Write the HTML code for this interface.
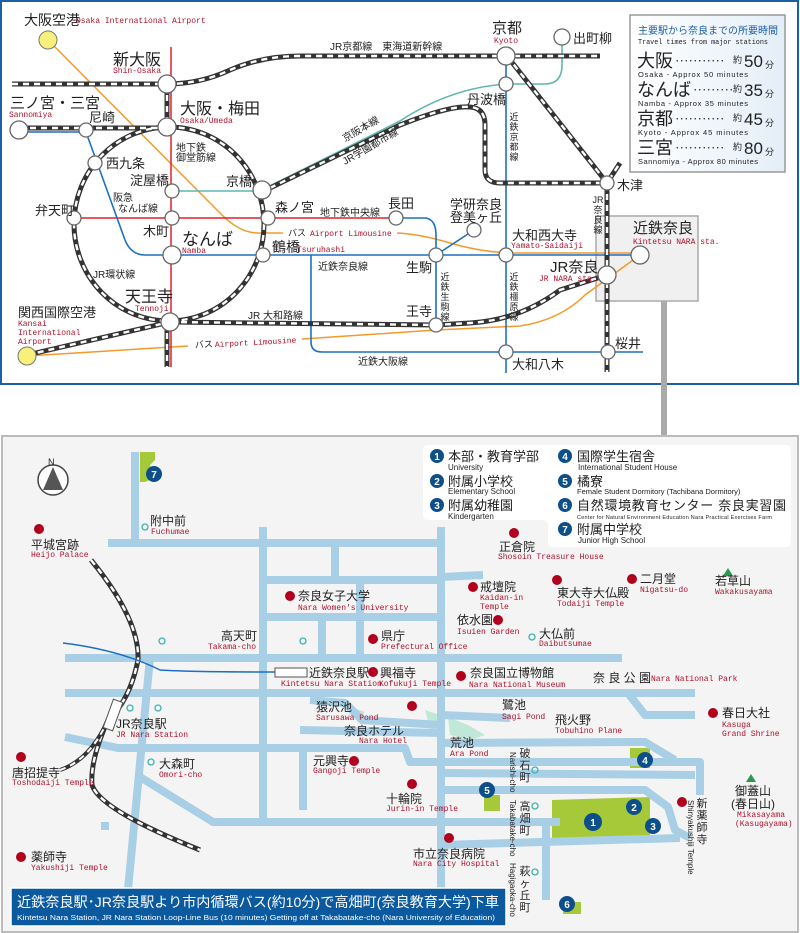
<!DOCTYPE html>
<html><head><meta charset="utf-8"><style>
html,body{margin:0;padding:0;background:#fff}
svg{display:block}
text{font-family:"Liberation Sans","Noto Sans CJK JP",sans-serif;fill:#222}
.r{font-family:"Liberation Mono","Noto Sans CJK JP",monospace;fill:#b0102a;font-size:8px}
.b{fill:#1a5fa8}
.st{fill:#fff;stroke:#666;stroke-width:1.3}
.rd{fill:#b0001e}
.road{fill:none;stroke:#a8cfe6;stroke-width:8;stroke-linejoin:round}
.nc{fill:#0d4f8b}
.nt{fill:#fff;font-size:10px;font-weight:bold;text-anchor:middle}
</style></head><body>
<svg width="800" height="933" viewBox="0 0 800 933" xmlns="http://www.w3.org/2000/svg">
<!-- TOP PANEL -->
<rect x="1" y="1" width="797" height="383" fill="#fff" stroke="#1a5fa8" stroke-width="2"/>
<rect x="661" y="300" width="6" height="140" fill="#aaa"/>
<rect x="596" y="216" width="102" height="85" fill="#f0f0f0" stroke="#aaa" stroke-width="1.5"/>

<g fill="none" stroke="#f39a2b" stroke-width="1.5">
<path d="M48,40 L222,215 Q240,233 258,233 L283,233"/>
<path d="M397,233 Q420,234 450,243 Q480,252 510,253 L640,253"/>
<path d="M27,356 L188,346"/>
<path d="M302,339 L436,330 L520,326 Q560,320 585,295 L640,255"/>
</g>
<path d="M172,191 L250,191 Q262,191 270,186 L400,121 Q450,88 506,84 L545,84 Q562,84 562,65 L562,44" fill="none" stroke="#5fb7b0" stroke-width="1.6"/>
<g stroke="#e0202a" stroke-width="1.5" fill="none">
<path d="M171,47 L171,367"/>
<path d="M74,218 L396,218"/>
</g>
<g stroke="#1c6fc4" stroke-width="1.6" fill="none">
<path d="M19,132 L86,132 L125,240 Q131,255 145,255 L640,255"/>
<path d="M396,218 L426,218 Q436,220 436,235 L436,325"/>
<path d="M436,255 L474,230"/>
<path d="M506,56 L506,373"/>
<path d="M311,255 L311,342 Q311,352 322,352 L643,352"/>
</g>
<g fill="none" stroke-linejoin="round">
<g stroke="#333" stroke-width="5">
<path d="M12,84 L167,84 Q200,84 230,70 Q262,56 300,56 L600,56"/>
<path d="M19,128 L167,128"/>
<path d="M167,84 L167,128"/>
<ellipse cx="169" cy="224" rx="95" ry="97"/>
<path d="M270,188 L400,125 Q450,105 470,107 Q485,108 485,125 L485,170 Q485,183 500,183 L607,183"/>
<path d="M507,56 L607,183 L620,163"/>
<path d="M607,183 L607,372"/>
<path d="M170,322 L436,325 L470,323 Q520,320 560,290 L607,275"/>
<path d="M27,355 L170,322"/>
<path d="M167,322 L167,367"/>
</g>
<g stroke="#fff" stroke-width="2.4" stroke-dasharray="6 5">
<path d="M12,84 L167,84 Q200,84 230,70 Q262,56 300,56 L600,56"/>
<path d="M19,128 L167,128"/>
<path d="M167,84 L167,128"/>
<ellipse cx="169" cy="224" rx="95" ry="97"/>
<path d="M270,188 L400,125 Q450,105 470,107 Q485,108 485,125 L485,170 Q485,183 500,183 L607,183"/>
<path d="M507,56 L607,183 L620,163"/>
<path d="M607,183 L607,372"/>
<path d="M170,322 L436,325 L470,323 Q520,320 560,290 L607,275"/>
<path d="M27,355 L170,322"/>
<path d="M167,322 L167,367"/>
</g>
</g>
<circle cx="48" cy="40" r="9" fill="#f8f07a" stroke="#777"/>
<circle cx="27" cy="356" r="9" fill="#f8f07a" stroke="#777"/>
<g class="st">
<circle cx="167" cy="84" r="9"/><circle cx="19" cy="130" r="9"/><circle cx="86" cy="130" r="7"/>
<circle cx="167" cy="127" r="9"/><circle cx="95" cy="163" r="7"/><circle cx="172" cy="191" r="7"/>
<circle cx="262" cy="190" r="9"/><circle cx="74" cy="218" r="7"/><circle cx="172" cy="218" r="7"/>
<circle cx="268" cy="218" r="7"/><circle cx="172" cy="255" r="9"/><circle cx="263" cy="255" r="7"/>
<circle cx="170" cy="322" r="9"/><circle cx="396" cy="218" r="7"/><circle cx="474" cy="230" r="7"/>
<circle cx="436" cy="255" r="7"/><circle cx="506" cy="255" r="7"/><circle cx="640" cy="255" r="9"/>
<circle cx="607" cy="275" r="9"/><circle cx="436" cy="325" r="7"/><circle cx="506" cy="56" r="9"/>
<circle cx="562" cy="37" r="8"/><circle cx="506" cy="84" r="7"/><circle cx="607" cy="183" r="7"/>
<circle cx="506" cy="352" r="7"/><circle cx="608" cy="352" r="7"/>
</g>
<g font-size="13">
<text x="24" y="25" font-size="14">大阪空港</text><text class="r" x="76" y="23">Osaka International Airport</text>
<text x="113" y="65" font-size="16">新大阪</text><text class="r" x="113" y="73">Shin-Osaka</text>
<text x="10" y="108" font-size="15">三ノ宮・三宮</text><text class="r" x="9" y="117">Sannomiya</text>
<text x="89" y="122">尼崎</text>
<text x="180" y="114" font-size="16">大阪・梅田</text><text class="r" x="180" y="123">Osaka/Umeda</text>
<text x="176" y="151" font-size="10">地下鉄</text><text x="176" y="161" font-size="10">御堂筋線</text>
<text x="106" y="168">西九条</text><text x="130" y="185">淀屋橋</text><text x="226" y="186">京橋</text>
<text x="113" y="201" font-size="10">阪急</text><text x="118" y="212" font-size="10">なんば線</text>
<text x="35" y="215">弁天町</text><text x="275" y="212">森ノ宮</text>
<text x="320" y="216" font-size="10">地下鉄中央線</text><text x="388" y="208">長田</text>
<text x="143" y="236">木町</text>
<text x="182" y="245" font-size="17">なんば</text><text class="r" x="182" y="253">Namba</text>
<text x="272" y="252" font-size="14">鶴橋</text><text class="r" x="297" y="252">Tsuruhashi</text>
<text x="288" y="236" font-size="9">バス</text><text class="r" x="310" y="236">Airport Limousine</text>
<text x="318" y="270" font-size="10">近鉄奈良線</text><text x="93" y="278" font-size="10">JR環状線</text>
<text x="125" y="302" font-size="16">天王寺</text><text class="r" x="135" y="311">Tennoji</text>
<text x="18" y="317">関西国際空港</text>
<text class="r" x="18" y="326">Kansai</text><text class="r" x="18" y="335">International</text><text class="r" x="18" y="344">Airport</text>
<text x="248" y="319" font-size="10">JR 大和路線</text>
<g transform="rotate(-3 195 348)"><text x="195" y="348" font-size="9">バス</text><text class="r" x="215" y="348">Airport Limousine</text></g>
<text x="358" y="365" font-size="10">近鉄大阪線</text>
<text x="330" y="50" font-size="10">JR京都線　東海道新幹線</text>
<text x="492" y="33" font-size="15">京都</text><text class="r" x="494" y="43">Kyoto</text>
<text x="573" y="43">出町柳</text><text x="467" y="104">丹波橋</text>
<text x="345" y="142" font-size="10" transform="rotate(-30 345 142)">京阪本線</text>
<text x="345" y="165" font-size="10" transform="rotate(-30 345 165)">JR学園都市線</text>
<text x="617" y="190">木津</text>
<text x="450" y="209">学研奈良</text><text x="450" y="222">登美ヶ丘</text>
<text x="512" y="240">大和西大寺</text><text class="r" x="511" y="248">Yamato-Saidaiji</text>
<text x="633" y="233" font-size="15">近鉄奈良</text><text class="r" x="633" y="244">Kintetsu NARA sta.</text>
<text x="550" y="272" font-size="15">JR奈良</text><text class="r" x="539" y="281">JR NARA sta.</text>
<text x="406" y="272">生駒</text><text x="406" y="316">王寺</text><text x="615" y="348">桜井</text><text x="512" y="369">大和八木</text>
</g>
<g font-size="9" text-anchor="middle">
<text x="514" y="120">近</text><text x="514" y="130">鉄</text><text x="514" y="140">京</text><text x="514" y="150">都</text><text x="514" y="160">線</text>
<text x="598" y="203">JR</text><text x="598" y="213">奈</text><text x="598" y="223">良</text><text x="598" y="233">線</text>
<text x="445" y="280">近</text><text x="445" y="290">鉄</text><text x="445" y="300">生</text><text x="445" y="310">駒</text><text x="445" y="320">線</text>
<text x="514" y="280">近</text><text x="514" y="290">鉄</text><text x="514" y="300">橿</text><text x="514" y="310">原</text><text x="514" y="320">線</text>
</g>
<linearGradient id="lg" x1="0" x2="1"><stop offset="0" stop-color="#fff"/><stop offset="1" stop-color="#e4eef8"/></linearGradient>
<rect x="630" y="15" width="155" height="157" fill="url(#lg)" stroke="#999" stroke-width="1.5"/>
<text x="638" y="34" font-size="10" class="b" textLength="140" lengthAdjust="spacingAndGlyphs">主要駅から奈良までの所要時間</text>
<text x="638" y="44" font-size="7.5" fill="#555" textLength="130" lengthAdjust="spacingAndGlyphs" style="font-family:'Liberation Mono',monospace">Travel times from major stations</text>
<g font-size="18">
<text x="637" y="67">大阪</text><text x="637" y="96">なんば</text><text x="637" y="125">京都</text><text x="637" y="154">三宮</text>
</g>
<g font-size="9" fill="#444">
<text x="675" y="64">･･･････････</text><text x="693" y="93">･････････</text><text x="675" y="122">･･･････････</text><text x="675" y="151">･･･････････</text>
<text x="733" y="63">約</text><text x="733" y="92">約</text><text x="733" y="121">約</text><text x="733" y="150">約</text>
<text x="765" y="68">分</text><text x="765" y="97">分</text><text x="765" y="126">分</text><text x="765" y="155">分</text>
</g>
<g font-size="17">
<text x="744" y="67">50</text><text x="744" y="96">35</text><text x="744" y="125">45</text><text x="744" y="154">80</text>
</g>
<g font-size="7.5" fill="#444" style="font-family:'Liberation Mono',monospace">
<text x="638" y="77" textLength="110">Osaka - Approx 50 minutes</text><text x="638" y="106" textLength="110">Namba - Approx 35 minutes</text>
<text x="638" y="135" textLength="110">Kyoto - Approx 45 minutes</text><text x="638" y="164" textLength="120">Sannomiya - Approx 80 minutes</text>
</g>

<!-- BOTTOM PANEL -->
<rect x="2" y="436" width="796" height="496" fill="#f4f4f4" stroke="#bbb" stroke-width="2"/>
<g fill="#a6c93a">
<path d="M140,452 L155,452 L155,460 L150,465 L155,478 L145,482 L140,482 Z"/>
<path d="M552,800 L650,797 L650,840 L552,842 Z"/>
<rect x="630" y="748" width="20" height="20"/>
<rect x="484" y="795" width="16" height="16"/>
<rect x="563" y="902" width="18" height="12"/>
</g>
<g fill="#bfe8d8"><path d="M345,705 L365,712 L358,720 Z"/><path d="M425,710 L440,715 L432,735 Z"/><path d="M448,717 L468,725 L485,735 L470,740 L450,735 Z"/></g>
<g class="road">
<path d="M135,452 L135,540"/>
<path d="M108,543 L440,543"/>
<path d="M263,527 L263,822"/>
<path d="M441,527 L441,895"/>
<path d="M267,580 L440,580"/><path d="M335,543 L335,580"/>
<path d="M267,617 L440,617"/><path d="M322,617 L322,655"/><path d="M360,580 L360,655"/>
<path d="M441,577 L483,575"/>
<path d="M65,658 L622,658"/>
<path d="M65,693 L628,693 L645,715 L695,715"/>
<path d="M150,658 L127,900"/>
<path d="M65,737 L118,748 L405,748 L410,762 L700,762 L700,795"/>
<path d="M140,777 L213,822 L560,822"/>
<path d="M441,743 L645,742 L675,760"/>
<path d="M441,773 L695,775"/>
<path d="M441,790 L645,790 L668,807 L675,830 L690,838"/>
<path d="M441,845 L680,838"/>
<path d="M441,715 L510,718"/>
<path d="M546,822 L546,900"/>
<path d="M310,700 L345,703 L362,720 L441,725"/>
<path d="M300,730 L441,733"/>
<path d="M303,745 L303,810"/>
<path d="M105,822 L105,830"/>
<path d="M630,693 L695,693"/>
</g>
<g fill="none">
<path d="M91,560 Q140,620 138,660 Q130,700 108,720 Q90,760 92,785 Q100,810 200,850" stroke="#333" stroke-width="5"/>
<path d="M91,560 Q140,620 138,660 Q130,700 108,720 Q90,760 92,785 Q100,810 200,850" stroke="#fff" stroke-width="2.4" stroke-dasharray="6 5"/>
<path d="M60,770 Q90,760 108,720" stroke="#333" stroke-width="4"/>
<path d="M60,770 Q90,760 108,720" stroke="#fff" stroke-width="2" stroke-dasharray="6 5"/>
</g>
<rect x="108" y="700" width="10" height="30" fill="#fff" stroke="#555" transform="rotate(20 113 715)"/>
<path d="M63,643 Q120,650 160,670 Q190,672 280,672" fill="none" stroke="#1c6fc4" stroke-width="1.5"/>
<rect x="275" y="668" width="32" height="9" fill="#fff" stroke="#555"/>
<circle cx="53" cy="480" r="15" fill="#fff" stroke="#444" stroke-width="1.5"/>
<path d="M53,467 L63,490 L43,490 Z" fill="#555"/><text x="48" y="465" font-size="9">N</text>
<g>
<circle class="nc" cx="154" cy="474" r="8"/><text class="nt" x="154" y="478">7</text>
<circle class="nc" cx="593" cy="822" r="9"/><text class="nt" x="593" y="826">1</text>
<circle class="nc" cx="634" cy="807" r="8"/><text class="nt" x="634" y="811">2</text>
<circle class="nc" cx="653" cy="826" r="8"/><text class="nt" x="653" y="830">3</text>
<circle class="nc" cx="645" cy="760" r="8"/><text class="nt" x="645" y="764">4</text>
<circle class="nc" cx="487" cy="790" r="8"/><text class="nt" x="487" y="794">5</text>
<circle class="nc" cx="567" cy="904" r="8"/><text class="nt" x="567" y="908">6</text>
</g>
<path d="M428,445 L786,445 Q791,445 791,450 L791,542 Q791,547 786,547 L553,547 Q548,547 548,542 L548,525 Q548,520 543,520 L428,520 Q423,520 423,515 L423,450 Q423,445 428,445 Z" fill="#fff"/>
<g>
<circle class="nc" cx="437" cy="456" r="7"/><text class="nt" x="437" y="460" font-size="9">1</text>
<circle class="nc" cx="437" cy="481" r="7"/><text class="nt" x="437" y="485" font-size="9">2</text>
<circle class="nc" cx="437" cy="505" r="7"/><text class="nt" x="437" y="509" font-size="9">3</text>
<circle class="nc" cx="565" cy="456" r="7"/><text class="nt" x="565" y="460" font-size="9">4</text>
<circle class="nc" cx="565" cy="481" r="7"/><text class="nt" x="565" y="485" font-size="9">5</text>
<circle class="nc" cx="565" cy="505" r="7"/><text class="nt" x="565" y="509" font-size="9">6</text>
<circle class="nc" cx="565" cy="529" r="7"/><text class="nt" x="565" y="533" font-size="9">7</text>
</g>
<g font-size="13">
<text x="448" y="461">本部・教育学部</text><text x="448" y="486">附属小学校</text><text x="448" y="510">附属幼稚園</text>
<text x="577" y="461">国際学生宿舎</text><text x="577" y="486">橘寮</text><text x="577" y="510" textLength="209">自然環境教育センター 奈良実習園</text><text x="577" y="534">附属中学校</text>
</g>
<g font-size="8" class="b" style="font-family:'Liberation Mono',monospace">
<text x="448" y="470">University</text><text x="448" y="494">Elementary School</text><text x="448" y="519">Kindergarten</text>
<text x="578" y="470">International Student House</text><text x="577" y="494" font-size="7.5">Female Student Dormitory (Tachibana Dormitory)</text>
<text x="577" y="519" font-size="5.5" textLength="195">Center for Natural Environment Education Nara Practical Exercises Farm</text><text x="578" y="543">Junior High School</text>
</g>
<g class="rd">
<circle cx="39" cy="529" r="5"/><circle cx="21" cy="757" r="5"/><circle cx="21" cy="857" r="5"/>
<circle cx="290" cy="596" r="5"/><circle cx="373" cy="639" r="5"/><circle cx="373" cy="672" r="5"/>
<circle cx="412" cy="706" r="5"/><circle cx="354" cy="761" r="5"/><circle cx="412" cy="784" r="5"/>
<circle cx="449" cy="838" r="5"/><circle cx="514" cy="533" r="5"/><circle cx="473" cy="587" r="5"/>
<circle cx="498" cy="620" r="5"/><circle cx="461" cy="676" r="5"/><circle cx="557" cy="580" r="5"/>
<circle cx="632" cy="579" r="5"/><circle cx="713" cy="713" r="5"/><circle cx="682" cy="802" r="5"/>
</g>
<path d="M728,568 L723,576 L733,576 Z" fill="#2a9a4a"/><path d="M751,774 L746,782 L756,782 Z" fill="#2a9a4a"/>
<g font-size="12">
<text x="150" y="525">附中前</text><text class="r" x="151" y="534">Fuchumae</text>
<text x="31" y="549">平城宮跡</text><text class="r" x="31" y="557">Heijo Palace</text>
<text x="298" y="600">奈良女子大学</text><text class="r" x="298" y="610">Nara Women's University</text>
<text x="221" y="640">高天町</text><text class="r" x="208" y="649">Takama-cho</text>
<text x="381" y="640">県庁</text><text class="r" x="381" y="649">Prefectural Office</text>
<text x="309" y="677">近鉄奈良駅</text><text class="r" x="281" y="686">Kintetsu Nara Station</text>
<text x="380" y="677">興福寺</text><text class="r" x="379" y="686">Kofukuji Temple</text>
<text x="470" y="677">奈良国立博物館</text><text class="r" x="469" y="687">Nara National Museum</text>
<text x="316" y="711">猿沢池</text><text class="r" x="316" y="720">Sarusawa Pond</text>
<text x="344" y="735">奈良ホテル</text><text class="r" x="359" y="743">Nara Hotel</text>
<text x="313" y="765">元興寺</text><text class="r" x="313" y="773">Gangoji Temple</text>
<text x="386" y="803">十輪院</text><text class="r" x="386" y="811">Jurin-in Temple</text>
<text x="413" y="858">市立奈良病院</text><text class="r" x="413" y="866">Nara City Hospital</text>
<text x="116" y="728">JR奈良駅</text><text class="r" x="116" y="737">JR Nara Station</text>
<text x="159" y="768">大森町</text><text class="r" x="159" y="777">Omori-cho</text>
<text x="12" y="777">唐招提寺</text><text class="r" x="12" y="785">Toshodaiji Temple</text>
<text x="31" y="861">薬師寺</text><text class="r" x="31" y="870">Yakushiji Temple</text>
<text x="499" y="551">正倉院</text><text class="r" x="498" y="559">Shosoin Treasure House</text>
<text x="480" y="591">戒壇院</text><text class="r" x="480" y="600">Kaidan-in</text><text class="r" x="480" y="609">Temple</text>
<text x="457" y="624">依水園</text><text class="r" x="457" y="634">Isuien Garden</text>
<text x="539" y="638">大仏前</text><text class="r" x="539" y="646">Daibutsumae</text>
<text x="557" y="597">東大寺大仏殿</text><text class="r" x="557" y="606">Todaiji Temple</text>
<text x="640" y="583">二月堂</text><text class="r" x="640" y="592">Nigatsu-do</text>
<text x="715" y="585">若草山</text><text class="r" x="715" y="594">Wakakusayama</text>
<text x="593" y="682">奈 良 公 園</text><text class="r" x="651" y="681">Nara National Park</text>
<text x="502" y="709">鷺池</text><text class="r" x="502" y="719">Sagi Pond</text>
<text x="555" y="724">飛火野</text><text class="r" x="555" y="733">Tobuhino Plane</text>
<text x="450" y="747">荒池</text><text class="r" x="450" y="756">Ara Pond</text>
<text x="722" y="717">春日大社</text><text class="r" x="722" y="727">Kasuga</text><text class="r" x="722" y="736">Grand Shrine</text>
<text x="735" y="795">御蓋山</text><text x="731" y="808">(春日山)</text>
<text class="r" x="737" y="817">Mikasayama</text><text class="r" x="735" y="826">(Kasugayama)</text>
</g>
<g font-size="11" text-anchor="middle">
<text x="525" y="757">破</text><text x="525" y="769">石</text><text x="525" y="781">町</text>
<text x="525" y="810">高</text><text x="525" y="822">畑</text><text x="525" y="834">町</text>
<text x="525" y="875">萩</text><text x="525" y="887">ヶ</text><text x="525" y="899">丘</text><text x="525" y="911">町</text>
<text x="702" y="807">新</text><text x="702" y="819">薬</text><text x="702" y="831">師</text><text x="702" y="843">寺</text>
</g>
<g class="r" font-size="6.5">
<text transform="translate(510,752) rotate(90)">Narishi-cho</text>
<text transform="translate(510,800) rotate(90)">Takabatake-cho</text>
<text transform="translate(510,863) rotate(90)">Hagigaoka-cho</text>
<text transform="translate(688,800) rotate(90)">Shinyakushiji Temple</text>
</g>
<g fill="none" stroke="#3bb3b3" stroke-width="1.3">
<circle cx="145" cy="527" r="3"/><circle cx="162" cy="641" r="3"/><circle cx="303" cy="641" r="3"/>
<circle cx="130" cy="708" r="3"/><circle cx="158" cy="708" r="3"/><circle cx="151" cy="762" r="3"/>
<circle cx="532" cy="637" r="3"/><circle cx="535" cy="770" r="3"/><circle cx="535" cy="806" r="3"/><circle cx="535" cy="872" r="3"/>
</g>
<rect x="11" y="888" width="495" height="38" fill="#0b5aa0" stroke="#fff" stroke-width="1.5"/>
<text x="17" y="907" font-size="14" style="fill:#fff" textLength="482" lengthAdjust="spacingAndGlyphs">近鉄奈良駅･JR奈良駅より市内循環バス(約10分)で高畑町(奈良教育大学)下車</text>
<text x="17" y="920" font-size="7" style="fill:#fff" textLength="478" lengthAdjust="spacingAndGlyphs">Kintetsu Nara Station, JR Nara Station Loop-Line Bus (10 minutes) Getting off at Takabatake-cho (Nara University of Education)</text>
</svg>
</body></html>
